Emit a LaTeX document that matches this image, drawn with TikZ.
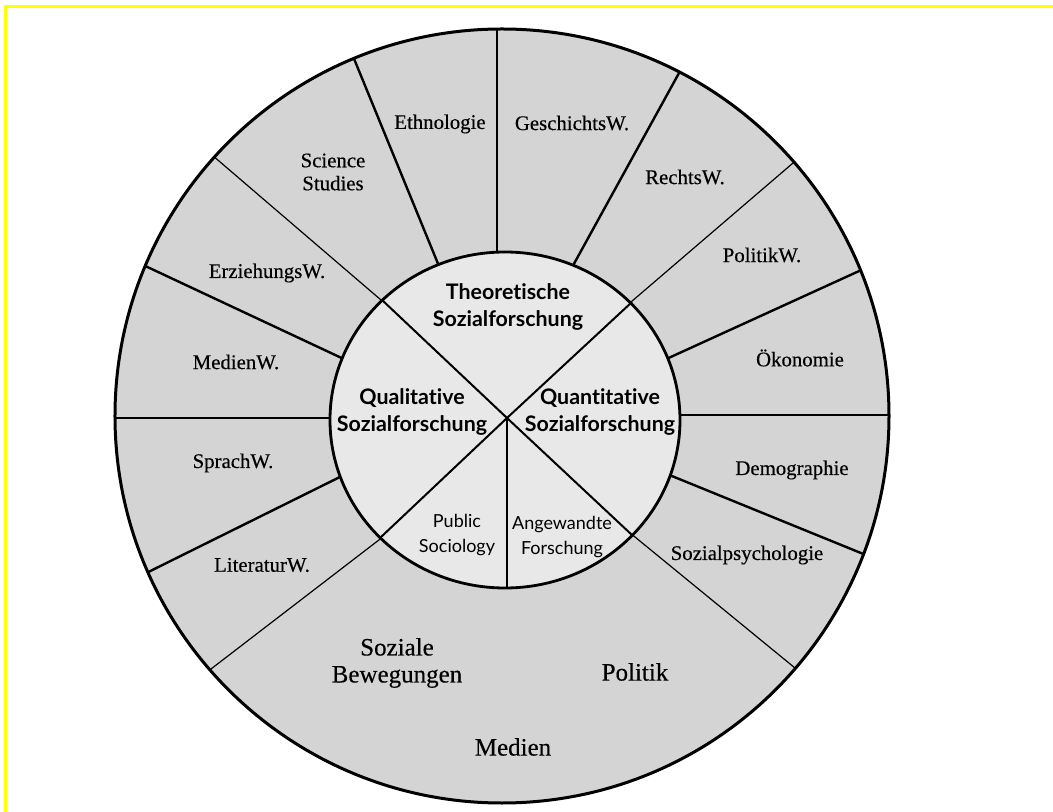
\documentclass[tikz,border=0pt]{standalone}
\usepackage{fontspec}
\setmainfont{Liberation Serif}[UprightFeatures={FakeBold=0.35}]
\newfontfamily\corefont{Lato}[Ligatures=NoCommon]
\definecolor{ringgray}{gray}{0.83}
\definecolor{coregray}{gray}{0.91}
\definecolor{frameyellow}{RGB}{255,255,0}

\begin{document}
\begin{tikzpicture}[
        x=0.5pt, y=0.5pt,
        ring/.style={fill=ringgray},
        core/.style={fill=coregray, draw=black, line width=1.4pt},
        divider/.style={line width=1.2pt},
        thindivider/.style={line width=0.6pt},
        ringlbl/.style={align=center, font=\fontsize{10.4}{11.5}\selectfont},
        bigringlbl/.style={align=center, font=\fontsize{12.5}{13.5}\selectfont},
        corelbl/.style={align=center, font=\corefont\bfseries\fontsize{10.7}{13.5}\selectfont},
        smallcorelbl/.style={align=center, font=\corefont\fontsize{9}{12.5}\selectfont}
    ]

    \useasboundingbox (-502,-396) rectangle (551,416);

    % --- frame (top and left only) ---
    \draw[frameyellow, line width=1.5pt] (-496.5,-396) -- (-496.5,409.5) -- (551,409.5);

    % --- outer ring ---
    \fill[ring] (0,0) circle (387);

    % Dividers (inner end / outer end)
    \foreach \a/\b in {{(-5,150)}/{(-5,386)}, {(68,145)}/{(62.7:386)}, {(160,55)}/{(22.1:386)},
                       {(165,1)}/{(386,1)}, {(160,-56)}/{(-20.9:386)}, {(-154,-57)}/{(-156.2:386)},
                       {(-160,-2)}/{(-386,-2)}, {(-154,55)}/{(157.2:386)}, {(-61,145)}/{(112.5:386)}}
        \draw[divider] \a -- \b;
    \foreach \a/\b in {{(122,108)}/{(41:386)}, {(122,-112)}/{(-40.7:386)},
                       {(-114,-117)}/{(-139:386)}, {(-114,110)}/{(138:386)}}
        \draw[thindivider] \a -- \b;

    \draw[line width=1.5pt] (0,0) circle (387);

    % --- inner circle ---
    \draw[core] (3,-4) ellipse [x radius=175, y radius=168];
    \draw[line width=1pt] (130,114) -- (5,-2) -- (-122,-122);
    \draw[line width=1pt] (-120,116) -- (5,-2) -- (130,-119);
    \draw[line width=1pt] (5,-2) -- (5,-172);

    % --- ring labels ---
    \node[ringlbl] (ethno) at (-62,292) {Ethnologie};
    \node[ringlbl] (gesch) at (70,293) {GeschichtsW.};
    \node[ringlbl] (rechts) at (183,239) {RechtsW.};
    \node[ringlbl] (politikw) at (260,161) {PolitikW.};
    \node[ringlbl] (oeko) at (298,58) {Ökonomie};
    \node[ringlbl] (demo) at (290,-54) {Demographie};
    \node[ringlbl] (sozpsy) at (245,-139) {Sozialpsychologie};
    \node[ringlbl] (literatur) at (-240,-149) {LiteraturW.};
    \node[ringlbl] (sprach) at (-269,-47) {SprachW.};
    \node[ringlbl] (medienw) at (-266,54) {MedienW.};
    \node[ringlbl] (erz) at (-235,143) {ErziehungsW.};
    \node[ringlbl] (science) at (-169,244) {Science\\Studies};

    % Bottom field
    \node[bigringlbl] (sozbew) at (-105,-247) {Soziale\\Bewegungen};
    \node[bigringlbl] (politik) at (133,-256) {Politik};
    \node[bigringlbl] (medien) at (11,-331) {Medien};

    % --- core labels ---
    \node[corelbl] (theo) at (6,109) {Theoretische\\Sozialforschung};
    \node[corelbl] (quali) at (-90,4) {Qualitative\\Sozialforschung};
    \node[corelbl] (quanti) at (98,4) {Quantitative\\Sozialforschung};
    \node[smallcorelbl] (public) at (-45,-119) {Public\\Sociology};
    \node[smallcorelbl] (angew) at (60,-121) {Angewandte\\Forschung};

\end{tikzpicture}
\end{document}
